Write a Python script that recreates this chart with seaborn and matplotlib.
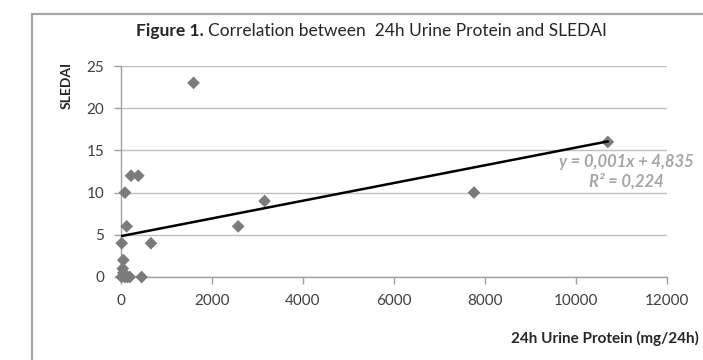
import matplotlib
matplotlib.use("Agg")
import matplotlib.pyplot as plt
import seaborn as sns
import pandas as pd
import numpy as np
from matplotlib.patches import Rectangle

# ---- data ----
urine_protein = [1600, 226, 386, 94, 131, 2580, 3160, 7760, 10700,
                 22, 664, 57, 45, 60, 20, 94, 150, 200, 460]
sledai = [23, 12, 12, 10, 6, 6, 9, 10, 16,
          4, 4, 2, 1, 0.5, 0, 0, 0, 0, 0]
trend_slope = 0.00105
trend_intercept = 4.835
equation_text = "y = 0,001x + 4,835\nR² = 0,224"
x_ticks = [0, 2000, 4000, 6000, 8000, 10000, 12000]
y_ticks = [0, 5, 10, 15, 20, 25]

df = pd.DataFrame({"protein": urine_protein, "sledai": sledai})
x_range = [min(urine_protein), max(urine_protein)]
trend = pd.DataFrame({"protein": x_range,
                      "sledai": [trend_intercept + trend_slope * v for v in x_range]})

sns.set_theme(style="white")
plt.rcParams["font.family"] = ["Lato", "DejaVu Sans"]

fig = plt.figure(figsize=(7.03, 3.6), dpi=100)
ax = fig.add_axes([120.7 / 703, 1 - 277 / 360, (667 - 120.7) / 703, (277 - 66) / 360])

# outer chart border
fig.patches.append(Rectangle((32 / 703, -0.1), 1.2, (1 - 14 / 360) + 0.1,
                             transform=fig.transFigure, fill=False,
                             edgecolor="#a6a6a6", linewidth=1.6, zorder=0))

ax.set_axisbelow(True)
ax.yaxis.grid(True, color="#c0c0c0", linewidth=1.0)
ax.xaxis.grid(False)

sns.scatterplot(data=df, x="protein", y="sledai", ax=ax, marker="D", s=42,
                color="#7b7b7b", edgecolor="none", zorder=3, clip_on=False)
sns.lineplot(data=trend, x="protein", y="sledai", ax=ax, color="black",
             linewidth=1.8, zorder=4)

ax.set_xlim(0, 12000)
ax.set_ylim(0, 25)
ax.set_xticks(x_ticks)
ax.set_yticks(y_ticks)
ax.tick_params(axis="both", which="both", direction="out", length=5, width=1,
               color="#a0a0a0", labelsize=11, labelcolor="#404040", pad=7, bottom=True, left=True)
for s in ["top", "right"]:
    ax.spines[s].set_visible(False)
for s in ["left", "bottom"]:
    ax.spines[s].set_color("#a0a0a0")
    ax.spines[s].set_linewidth(1)
ax.set_xlabel("")
ax.set_ylabel("")

# axis titles
fig.text(67 / 703, 1 - 85 / 360, "SLEDAI", rotation=90, ha="center", va="center",
         fontsize=10, fontweight="bold", color="#262626")
fig.text(699 / 703, 1 - 338 / 360, "24h Urine Protein (mg/24h)", ha="right", va="center",
         fontsize=11, fontweight="bold", color="#262626")

# title
t1 = fig.text(136 / 703, 1 - 31 / 360, "Figure 1.", ha="left", va="center",
              fontsize=12.5, fontweight="bold", color="#262626")
fig.canvas.draw()
bb = t1.get_window_extent()
fig.text((bb.x1 + 4) / 703, 1 - 31 / 360,
         "Correlation between  24h Urine Protein and SLEDAI",
         ha="left", va="center", fontsize=12.5, color="#262626")

# trendline equation
ax.text(626 / 703, 1 - 172 / 360, equation_text, transform=fig.transFigure,
        ha="center", va="center", fontsize=12, fontstyle="italic", fontweight="bold",
        color="#a6a6a6", linespacing=1.2)

fig.savefig("out.png", dpi=100)
